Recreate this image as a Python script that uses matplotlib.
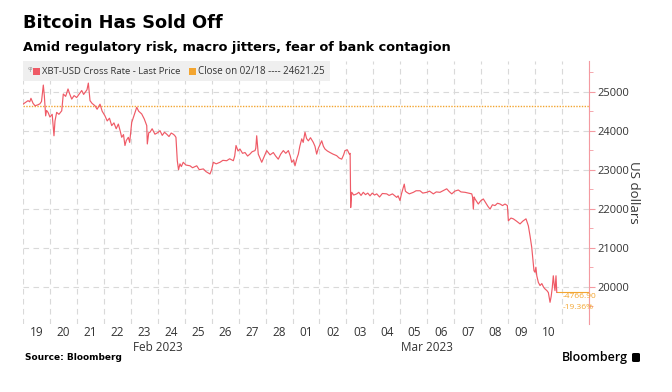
import matplotlib
matplotlib.use("Agg")
import matplotlib.pyplot as plt
import matplotlib.dates as mdates
from matplotlib.ticker import MultipleLocator, NullFormatter
from matplotlib.patches import Rectangle, FancyBboxPatch
import pandas as pd

# hours after 2023-02-19 00:00 and XBT-USD price
hours = [0, 2, 4.5, 6, 7.1, 9, 10.7, 13, 15.1, 16.5, 18.1, 19, 20.2, 21, 22.3, 24, 26, 27.6, 28.5, 30.0,
         32, 34.5, 35.9, 38, 40.1, 41.5, 43.4, 45.5, 47.8, 50, 52.3, 54, 55.2, 57, 58.2, 59.7, 61.5, 64.1,
         66, 68.6, 70.5, 73.0, 75, 77, 79.0, 81, 83, 84.9, 86.5, 87.9, 89.5, 90.8, 92, 93.8, 95, 96.8, 99,
         101.3, 103, 105.7, 108, 110.2, 110.7, 112, 113.1, 115, 117.5, 120, 122.0, 124, 126, 128.0, 130,
         132, 133.8, 135, 136.2, 137.4, 138.5, 139.8, 141, 142.7, 145, 148.7, 151, 154.7, 157, 160.6, 163,
         166.5, 168, 169.5, 172, 175.4, 178, 181.4, 184, 187.3, 188.5, 189.7, 191.5, 193.2, 195.5, 197.7,
         200, 202.1, 204, 206.6, 207.3, 208.1, 209.5, 211, 212.6, 215, 217.0, 220, 222.9, 225, 227.3,
         229.5, 231.8, 234, 236.3, 238, 239.3, 241, 242.2, 244, 245.2, 246.5, 248.2, 249.5, 251.1, 252.5,
         254.1, 256, 258.5, 260, 261.5, 263, 266.0, 267.5, 268.9, 271, 273.4, 276, 279.3, 281.5, 283.8,
         285.5, 286.7, 288.8, 290.6, 291.3, 291.8, 292.7, 294.5, 297.2, 299, 301, 303.0, 305, 307, 309.0,
         311, 313, 315.0, 317.5, 320, 323.9, 326, 329, 332.8, 334, 335.7, 337, 339.5, 340.5, 341.7, 344,
         347.6, 350, 353.5, 356, 359.5, 362, 365.4, 368, 371.3, 374, 377.3, 379.5, 381.8, 384.5, 387.6,
         390, 393.6, 396.5, 399.6, 400.3, 401.0, 401.7, 402.5, 404, 405.4, 407.5, 409.9, 412, 414, 415.9,
         418, 420.3, 422.5, 424.8, 427, 429.2, 431.3, 432.2, 434.5, 436.6, 439.5, 442.6, 445, 447.9, 449,
         450.0, 451.5, 453.0, 454, 455.0, 455.9, 456.7, 457.5, 458.9, 460.4, 462, 463.5, 464.9, 466.5,
         467.8, 469.3, 470.3, 471.3, 472.2, 473.0, 473.7, 474.6, 475.3]
price = [24680, 24720, 24770, 24740, 24830, 24700, 24640, 24660, 24690, 24750, 25170, 24900, 24380, 24520,
         24470, 24350, 24420, 23870, 24250, 24470, 24420, 24510, 24940, 24880, 25070, 24950, 24810, 24900,
         24850, 24940, 25030, 24930, 24980, 25050, 25220, 24770, 24700, 24640, 24550, 24680, 24500, 24380,
         24250, 24320, 24130, 24200, 24050, 24170, 24000, 23830, 23900, 23620, 23750, 23830, 23700, 24210,
         24400, 24600, 24500, 24430, 24300, 24130, 23660, 23950, 23960, 24050, 23910, 23950, 24000, 23880,
         23960, 23910, 23850, 23940, 23910, 23880, 23830, 23230, 23000, 23150, 23080, 23190, 23120, 23100,
         23050, 23100, 23000, 23020, 22950, 22890, 23000, 23190, 23150, 23190, 23240, 23230, 23280, 23230,
         23350, 23620, 23480, 23530, 23420, 23440, 23350, 23400, 23460, 23490, 23550, 23870, 23400, 23300,
         23190, 23350, 23490, 23380, 23440, 23350, 23270, 23400, 23490, 23420, 23490, 23350, 23190, 23250,
         23100, 23300, 23400, 23600, 23790, 23700, 23960, 23800, 23740, 23820, 23700, 23600, 23400, 23550,
         23740, 23600, 23530, 23480, 23440, 23400, 23360, 23300, 23270, 23380, 23490, 23510, 23400, 23420,
         22030, 22420, 22350, 22380, 22420, 22340, 22420, 22360, 22400, 22330, 22400, 22350, 22380, 22300,
         22390, 22380, 22340, 22380, 22290, 22330, 22210, 22380, 22630, 22450, 22420, 22380, 22420, 22460,
         22460, 22400, 22420, 22450, 22380, 22430, 22420, 22460, 22510, 22440, 22380, 22450, 22480, 22430,
         22420, 22400, 22380, 22300, 21990, 22300, 22250, 22180, 22120, 22200, 22250, 22150, 22060, 21990,
         22100, 22080, 22140, 22120, 22080, 22120, 22080, 21690, 21760, 21740, 21680, 21610, 21680, 21740,
         21650, 21560, 21300, 21010, 20700, 20410, 20370, 20500, 20280, 20110, 20030, 20080, 19990, 19940,
         19900, 19850, 19600, 19750, 19980, 20280, 20050, 19900, 20280, 19854]

close_0218 = 24621.25
change_abs = "-4766.90"
change_pct = "-19.36%"
day_labels = ["19", "20", "21", "22", "23", "24", "25", "26", "27", "28",
              "01", "02", "03", "04", "05", "06", "07", "08", "09", "10"]

LINE = "#EF5A66"
ORANGE = "#F3A530"
GRID = "#D9D9D9"
TXT = "#333333"

plt.rcParams["font.family"] = ["Open Sans", "DejaVu Sans"]

start = pd.Timestamp("2023-02-19")
t = [start + pd.Timedelta(hours=h) for h in hours]

fig = plt.figure(figsize=(6.72, 3.92), dpi=100)
ax = fig.add_axes([0.0342, 0.1735, 0.8423, 0.6709])

ax.plot(t, price, color=LINE, lw=0.85, zorder=3)
ax.axhline(close_0218, color=ORANGE, lw=1.0, ls=(0, (1, 1)), zorder=2)
ax.plot([t[-1], start + pd.Timedelta(days=21)], [price[-1], price[-1]], color=ORANGE, lw=0.8, zorder=2)

ax.set_xlim(start, start + pd.Timedelta(days=21))
ax.set_ylim(19044, 25787)

# days: grid at midnight, labels at noon
ax.xaxis.set_major_locator(mdates.DayLocator())
ax.xaxis.set_major_formatter(NullFormatter())
noon = [start + pd.Timedelta(days=i, hours=12) for i in range(len(day_labels))]
ax.set_xticks(noon, minor=True)
ax.set_xticklabels(day_labels, minor=True)
ax.tick_params(axis="x", which="both", length=0, labelsize=8.5, colors=TXT, pad=1.5)

ax.yaxis.tick_right()
ax.yaxis.set_label_position("right")
ax.yaxis.set_major_locator(MultipleLocator(1000))
ax.yaxis.set_minor_locator(MultipleLocator(500))
ax.tick_params(axis="y", which="major", length=4, color="#F49AA1", labelsize=8, labelcolor=TXT, pad=2)
ax.tick_params(axis="y", which="minor", length=3, color="#F49AA1")
ax.set_ylabel("US dollars", rotation=270, labelpad=8, fontsize=9.5, color=TXT)

ax.grid(True, which="major", color=GRID, ls=(0, (5, 4)), lw=0.8)
for s in ["left", "top", "bottom"]:
    ax.spines[s].set_visible(False)
ax.spines["right"].set_color("#F49AA1")

# month labels
ax.text(start + pd.Timedelta(days=5), -0.065, "Feb 2023", transform=ax.get_xaxis_transform(),
        ha="center", va="top", fontsize=8.5, color=TXT)
ax.text(start + pd.Timedelta(days=15), -0.065, "Mar 2023", transform=ax.get_xaxis_transform(),
        ha="center", va="top", fontsize=8.5, color=TXT)

# change annotation
ax.annotate(change_abs, (t[-1], price[-1]), xytext=(4, -3), textcoords="offset points",
            ha="left", va="center", fontsize=6, color=ORANGE)
ax.annotate(change_pct, (t[-1], price[-1]), xytext=(4, -11), textcoords="offset points",
            ha="left", va="center", fontsize=6, color=ORANGE)

# legend strip
fig.patches.append(Rectangle((23 / 672, 1 - 81 / 392), 307 / 672, 20 / 392, transform=fig.transFigure,
                             facecolor="#EFEFEF", edgecolor="none", zorder=5))
fig.text(28 / 672, 1 - 71 / 392, "ᵠ", fontsize=8, color="#999999", va="center", ha="left", zorder=6,
         family=["DejaVu Sans"])
fig.patches.append(Rectangle((33 / 672, 1 - 75 / 392), 7 / 672, 7 / 392, transform=fig.transFigure,
                             facecolor=LINE, edgecolor="none", zorder=6))
fig.text(42 / 672, 1 - 71 / 392, "XBT-USD Cross Rate - Last Price", fontsize=6.8, color=TXT,
         va="center", ha="left", zorder=6)
fig.patches.append(Rectangle((189 / 672, 1 - 75 / 392), 7 / 672, 7 / 392, transform=fig.transFigure,
                             facecolor=ORANGE, edgecolor="none", zorder=6))
fig.text(198 / 672, 1 - 71 / 392, "Close on 02/18 ---- 24621.25", fontsize=7, color=TXT,
         va="center", ha="left", zorder=6)

# titles
fig.text(23 / 672, 1 - 23 / 392, "Bitcoin Has Sold Off", fontsize=12.8, fontweight="bold",
         family=["DejaVu Sans"], va="center", ha="left", color="black")
fig.text(23 / 672, 1 - 47 / 392, "Amid regulatory risk, macro jitters, fear of bank contagion",
         fontsize=9.3, fontweight="bold", family=["DejaVu Sans"], va="center", ha="left", color="black")

# footer
fig.text(25 / 672, 1 - 358 / 392, "Source: Bloomberg", fontsize=6.5, fontweight="bold",
         family=["DejaVu Sans"], va="center", ha="left", color="black")
fig.text(628 / 672, 1 - 357 / 392, "Bloomberg", fontsize=9, fontweight="semibold",
         va="center", ha="right", color="black")
fig.patches.append(FancyBboxPatch((632 / 672, 1 - 362 / 392), 8 / 672, 9 / 392,
                                  boxstyle="round,pad=0,rounding_size=0.003", transform=fig.transFigure,
                                  facecolor="black", edgecolor="none"))

fig.savefig("out.png", dpi=100)
